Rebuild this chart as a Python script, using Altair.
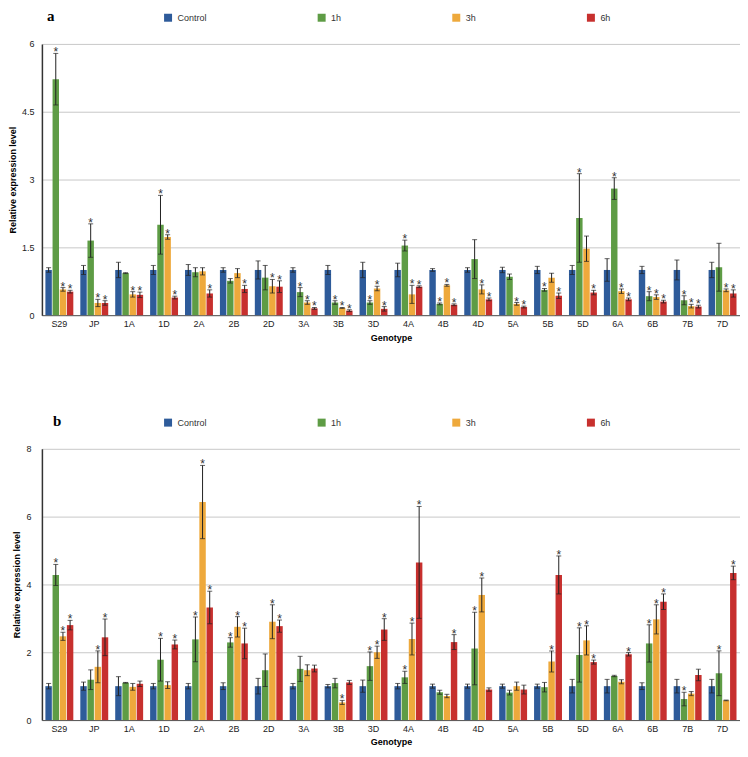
import altair as alt
import pandas as pd

genotypes = ["S29", "JP", "1A", "1D", "2A", "2B", "2D", "3A", "3B", "3D",
             "4A", "4B", "4D", "5A", "5B", "5D", "6A", "6B", "7B", "7D"]
series = ["Control", "1h", "3h", "6h"]
colors = ["#2E5B9A", "#5E9C45", "#EEA93C", "#C7302E"]

# ---------------- panel a ----------------
a_control = [1.00, 1.00, 1.00, 1.00, 1.00, 1.00, 1.00, 1.00, 1.00, 1.00,
             1.00, 1.00, 1.00, 1.00, 1.00, 1.00, 1.00, 1.00, 1.00, 1.00]
a_control_err = [0.05, 0.10, 0.17, 0.10, 0.12, 0.05, 0.20, 0.05, 0.10, 0.17,
                 0.15, 0.03, 0.05, 0.06, 0.08, 0.10, 0.25, 0.08, 0.22, 0.17]
a_1h = [5.22, 1.65, 0.93, 2.00, 0.95, 0.76, 0.83, 0.51, 0.28, 0.28,
        1.54, 0.25, 1.24, 0.85, 0.56, 2.15, 2.80, 0.42, 0.33, 1.06]
a_1h_err = [0.57, 0.37, 0.01, 0.65, 0.10, 0.05, 0.27, 0.10, 0.04, 0.04,
            0.12, 0.02, 0.43, 0.06, 0.03, 0.98, 0.24, 0.10, 0.10, 0.53]
a_3h = [0.57, 0.27, 0.46, 1.73, 0.97, 0.93, 0.64, 0.28, 0.16, 0.59,
        0.46, 0.66, 0.57, 0.25, 0.83, 1.47, 0.53, 0.40, 0.20, 0.55]
a_3h_err = [0.04, 0.08, 0.06, 0.05, 0.08, 0.10, 0.15, 0.04, 0.01, 0.05,
            0.20, 0.02, 0.10, 0.03, 0.10, 0.28, 0.05, 0.05, 0.04, 0.03]
a_6h = [0.52, 0.27, 0.45, 0.39, 0.48, 0.58, 0.63, 0.15, 0.10, 0.14,
        0.63, 0.23, 0.35, 0.18, 0.43, 0.50, 0.35, 0.30, 0.19, 0.48]
a_6h_err = [0.03, 0.05, 0.06, 0.03, 0.08, 0.08, 0.13, 0.02, 0.02, 0.05,
            0.02, 0.02, 0.03, 0.02, 0.06, 0.05, 0.03, 0.03, 0.03, 0.08]
a_star_control = [0, 0, 0, 0, 0, 0, 0, 0, 0, 0, 0, 0, 0, 0, 0, 0, 0, 0, 0, 0]
a_star_1h = [1, 1, 0, 1, 0, 0, 0, 1, 1, 1, 1, 1, 0, 0, 1, 1, 1, 1, 1, 0]
a_star_3h = [1, 1, 1, 1, 0, 0, 1, 1, 1, 1, 1, 1, 1, 1, 0, 0, 1, 1, 1, 1]
a_star_6h = [1, 1, 1, 1, 1, 1, 1, 1, 1, 1, 1, 1, 1, 1, 1, 1, 1, 1, 1, 1]
a_ticks = [0, 1.5, 3, 4.5, 6]

# ---------------- panel b ----------------
b_control = [1.00, 1.00, 1.00, 1.00, 1.00, 1.00, 1.00, 1.00, 1.00, 1.00,
             1.00, 1.00, 1.00, 1.00, 1.00, 1.00, 1.00, 1.00, 1.00, 1.00]
b_control_err = [0.08, 0.12, 0.28, 0.08, 0.08, 0.10, 0.23, 0.08, 0.05, 0.18,
                 0.08, 0.06, 0.06, 0.06, 0.06, 0.20, 0.20, 0.10, 0.20, 0.20]
b_1h = [4.28, 1.19, 1.10, 1.78, 2.38, 2.29, 1.47, 1.51, 1.09, 1.59,
        1.26, 0.82, 2.11, 0.81, 0.97, 1.92, 1.30, 2.26, 0.62, 1.38]
b_1h_err = [0.31, 0.29, 0.01, 0.63, 0.66, 0.14, 0.48, 0.37, 0.14, 0.42,
            0.18, 0.06, 1.07, 0.07, 0.14, 0.80, 0.02, 0.55, 0.20, 0.66]
b_3h = [2.47, 1.57, 0.98, 1.03, 6.43, 2.75, 2.90, 1.47, 0.52, 2.00,
        2.39, 0.71, 3.69, 1.00, 1.73, 2.35, 1.13, 2.97, 0.78, 0.58]
b_3h_err = [0.12, 0.47, 0.10, 0.10, 1.08, 0.30, 0.50, 0.16, 0.06, 0.18,
            0.47, 0.05, 0.50, 0.12, 0.31, 0.43, 0.06, 0.43, 0.06, 0.01]
b_6h = [2.80, 2.44, 1.07, 2.23, 3.32, 2.26, 2.77, 1.52, 1.11, 2.67,
        4.65, 2.30, 0.90, 0.90, 4.28, 1.71, 1.94, 3.49, 1.33, 4.34]
b_6h_err = [0.14, 0.54, 0.08, 0.13, 0.48, 0.45, 0.18, 0.10, 0.06, 0.32,
            1.65, 0.22, 0.05, 0.13, 0.56, 0.06, 0.05, 0.23, 0.17, 0.20]
b_star_control = [0, 0, 0, 0, 0, 0, 0, 0, 0, 0, 0, 0, 0, 0, 0, 0, 0, 0, 0, 0]
b_star_1h = [1, 0, 0, 1, 1, 1, 0, 0, 0, 1, 1, 0, 1, 0, 0, 1, 0, 1, 1, 1]
b_star_3h = [1, 1, 0, 0, 1, 1, 1, 0, 1, 1, 1, 0, 1, 0, 1, 1, 0, 1, 0, 0]
b_star_6h = [1, 1, 0, 1, 1, 1, 1, 0, 0, 1, 1, 1, 0, 0, 1, 1, 1, 1, 0, 1]
b_ticks = [0, 2, 4, 6, 8]

FONT = "Liberation Sans"
INK = "#222222"


def make_df(vals, errs, stars):
    rows = []
    for s, v_list, e_list, st_list in zip(series, vals, errs, stars):
        for g, v, e, st in zip(genotypes, v_list, e_list, st_list):
            rows.append({"genotype": g, "series": s, "value": v,
                         "lo": v - e, "hi": v + e, "star": st})
    return pd.DataFrame(rows)


def panel(df, label, ymax, ticks, label_dx, lab_pad, w, h):
    x = alt.X("genotype:N", sort=genotypes, title="Genotype",
              scale=alt.Scale(paddingInner=0.2, paddingOuter=0.1),
              axis=alt.Axis(labelAngle=0, ticks=False, labelPadding=4,
                            domainColor="#555555", domainWidth=1,
                            labelFont=FONT, labelFontSize=9, labelColor=INK,
                            titleFont=FONT, titleFontSize=9, titleFontWeight="bold",
                            titleColor="#000000", titlePadding=5))
    xo = alt.XOffset("series:N", sort=series, scale=alt.Scale(paddingInner=0.1))
    yaxis = alt.Axis(values=ticks, labelExpr="datum.value + ''",
                     ticks=False, labelPadding=lab_pad,
                     domainColor="#333333", domainWidth=1.5,
                     gridColor="#c8c8c8", gridWidth=1,
                     labelFont=FONT, labelFontSize=9, labelColor=INK,
                     titleFont=FONT, titleFontSize=9, titleFontWeight="bold",
                     titleColor="#000000", titlePadding=4)
    yscale = alt.Scale(domain=[0, ymax], nice=False)
    ytitle = "Relative expression level"

    base = alt.Chart(df)
    bars = base.mark_bar().encode(
        x=x, xOffset=xo,
        y=alt.Y("value:Q", scale=yscale, axis=yaxis, title=ytitle),
        color=alt.Color("series:N", sort=series,
                        scale=alt.Scale(domain=series, range=colors),
                        legend=alt.Legend(orient="none", legendX=122, legendY=-31,
                                          direction="horizontal", columns=4,
                                          columnPadding=110, title=None,
                                          symbolType="square", symbolSize=64,
                                          symbolStrokeWidth=0, labelOffset=5,
                                          labelFont=FONT, labelFontSize=9,
                                          labelColor="#333333", padding=0)),
    )
    rules = base.mark_rule(color=INK, strokeWidth=1).encode(
        x=x, xOffset=xo,
        y=alt.Y("lo:Q", scale=yscale, axis=yaxis, title=ytitle), y2="hi:Q")
    cap_hi = base.mark_tick(color=INK, size=5, thickness=1).encode(
        x=x, xOffset=xo, y=alt.Y("hi:Q", scale=yscale, axis=yaxis, title=ytitle))
    cap_lo = base.mark_tick(color=INK, size=5, thickness=1).encode(
        x=x, xOffset=xo, y=alt.Y("lo:Q", scale=yscale, axis=yaxis, title=ytitle))
    stars = base.transform_filter("datum.star == 1").mark_text(
        text="*", fontSize=12, font=FONT, color="#333333",
        baseline="alphabetic", dy=3).encode(
        x=x, xOffset=xo, y=alt.Y("hi:Q", scale=yscale, axis=yaxis, title=ytitle))

    return alt.layer(bars, rules, cap_hi, cap_lo, stars).properties(
        width=w, height=h,
        title=alt.TitleParams(text=label, anchor="start", frame="group",
                              font="Liberation Serif", fontSize=15,
                              fontWeight="bold", color="#000000",
                              dx=label_dx, dy=13, offset=2),
    )


df_a = make_df([a_control, a_1h, a_3h, a_6h],
               [a_control_err, a_1h_err, a_3h_err, a_6h_err],
               [a_star_control, a_star_1h, a_star_3h, a_star_6h])
df_b = make_df([b_control, b_1h, b_3h, b_6h],
               [b_control_err, b_1h_err, b_3h_err, b_6h_err],
               [b_star_control, b_star_1h, b_star_3h, b_star_6h])

pa = panel(df_a, "a", 6, a_ticks, 5, 8, 700, 272)
pb = panel(df_b, "b", 8, b_ticks, 11, 11, 700, 272)

chart = alt.concat(pa, pb, columns=1, spacing=72).resolve_scale(
    color="independent", x="independent", y="independent"
).resolve_legend(color="independent").properties(
    padding={"left": 0, "top": 0, "right": 0, "bottom": 0}
).configure_view(strokeWidth=0)

chart.save("out.html", embed_options={"renderer": "svg", "actions": False})
